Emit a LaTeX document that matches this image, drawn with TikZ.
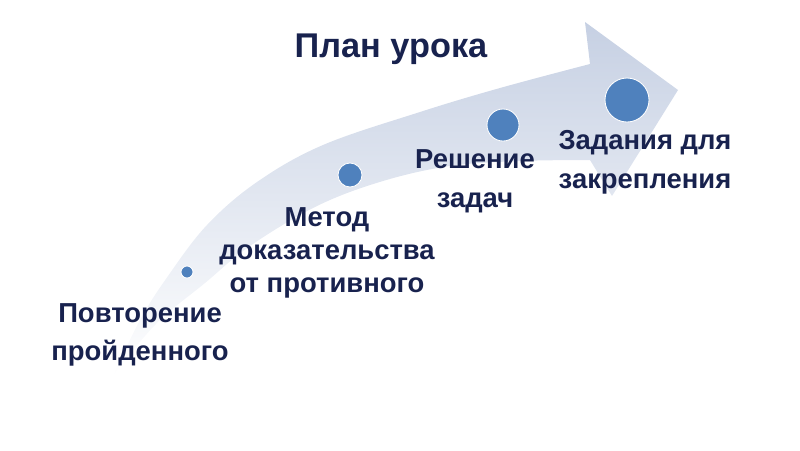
\documentclass[tikz,border=0pt]{standalone}
\usepackage{fontspec}
\setmainfont{Liberation Sans}
\usetikzlibrary{positioning,calc}
\definecolor{navy}{HTML}{18224E}
\definecolor{dotblue}{HTML}{4F81BD}
\definecolor{bandgray}{HTML}{C6D0E3}
\tikzset{dot/.style={draw=white,line width=0.6pt,circle,fill=dotblue,inner sep=0pt}}
\tikzset{lbl/.style={text=navy,font=\bfseries\fontsize{19.5}{27.5}\selectfont,align=center,inner sep=0pt}}
\tikzset{ttl/.style={text=navy,font=\bfseries\fontsize{24.4}{28}\selectfont,inner sep=0pt}}

\begin{document}
\begin{tikzpicture}[x=0.025cm,y=-0.025cm]
	\useasboundingbox (0,0) rectangle (800,450);
	% curved arrow band
	\shade[top color=bandgray,middle color=bandgray!88,bottom color=white]
		plot[smooth,tension=0.6] coordinates {(112,378) (140,320) (168,276) (207,225) (257,182) (323,145) (420,112) (500,88) (590,64)}
		-- (585,22) -- (678,90) -- (612,196) -- (590,160)
		-- plot[smooth,tension=0.6] coordinates {(590,160) (520,161) (450,166) (383,181) (317,206) (250,246) (205,283) (160,320) (125,360) (112,378)}
		-- cycle;

	\node[dot,minimum size=12pt*0.7113] (d1) at (187,272) {};
	\node[dot,minimum size=24pt*0.7113] (d2) at (350,175) {};
	\node[dot,minimum size=32pt*0.7113] (d3) at (503,125) {};
	\node[dot,minimum size=44pt*0.7113] (d4) at (627,100) {};

	\node[ttl] (title) at (391,49) {План урока};

	\node[lbl] (l1) at (140,335) {Повторение\\пройденного};
	\node[lbl,font=\bfseries\fontsize{19.5}{23.5}\selectfont] (l2) at (327,253) {Метод\\доказательства\\от противного};
	\node[lbl] (l3) at (475,181) {Решение\\задач};
	\node[lbl] (l4) at (645,162) {Задания для\\закрепления};
\end{tikzpicture}
\end{document}
